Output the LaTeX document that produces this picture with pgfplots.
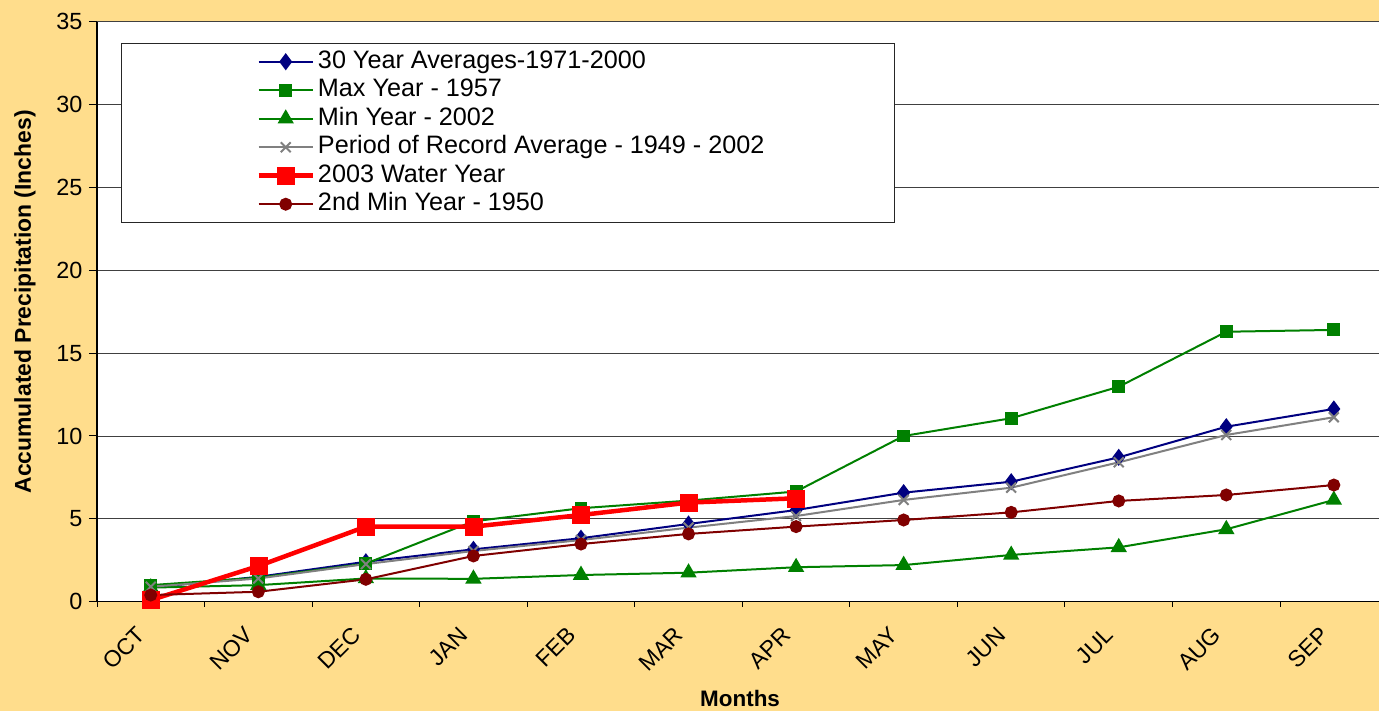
\documentclass[border=0pt]{standalone}
\usepackage{fontspec}
\setmainfont{Liberation Sans}
\usepackage{pgfplots}
\pgfplotsset{compat=1.18}
\definecolor{bgcol}{RGB}{255,221,140}
\definecolor{navy}{RGB}{0,0,128}
\definecolor{dgreen}{RGB}{0,128,0}
\definecolor{dred}{RGB}{128,0,0}
\definecolor{mgray}{RGB}{128,128,128}
\begin{document}
\begin{tikzpicture}[x=1bp,y=1bp]
\fill[bgcol] (0,0) rectangle (1379,711);
\begin{axis}[
  at={(97bp,109.3bp)}, anchor=south west, scale only axis,
  width=1282bp, height=580bp,
  xmin=-0.5, xmax=11.42, ymin=0, ymax=35,
  clip=false,
  axis x line*=bottom, axis y line*=left,
  axis line style={black, line width=1.6bp, -},
  every outer x axis line/.append style={-},
  every outer y axis line/.append style={-},
  axis background/.style={fill=white},
  xtick={0,...,11},
  xticklabels={OCT,NOV,DEC,JAN,FEB,MAR,APR,MAY,JUN,JUL,AUG,SEP},
  minor xtick={-0.5,0.5,...,10.5},
  ytick={0,5,...,35},
  ymajorgrids, grid style={black!75, line width=0.9bp},
  tick align=outside,
  major tick length=8bp, minor tick length=5bp,
  major x tick style={draw=none},
  tick style={black, line width=1bp},
  yticklabel style={font=\fontsize{23.5}{26}\selectfont, /pgf/number format/assume math mode=true, xshift=-3bp},
  xticklabel style={font=\fontsize{23}{26}\selectfont, xshift=-7bp, yshift=-19bp, rotate=45, anchor=east},
  ylabel={\bfseries Accumulated Precipitation (Inches)},
  every axis y label/.style={at={(rel axis cs:0,0.517)}, xshift=-72bp, rotate=90, anchor=center, font=\fontsize{23}{26}\selectfont},
  xlabel={\bfseries Months},
  every axis x label/.style={at={(rel axis cs:0.5016,0)}, anchor=center, yshift=-97bp, font=\fontsize{22.5}{26}\selectfont},
  legend style={at={(0.0187,0.9633)}, anchor=north west, draw=black!85, line width=1bp, fill=white,
    inner xsep=127bp, inner ysep=4bp, font=\fontsize{25.3}{28}\selectfont,
    cells={anchor=west},
    nodes={text height=18.5bp, text depth=5bp, inner ysep=2.5bp, inner xsep=3bp}},
  legend image code/.code={\path (-8bp,0bp); \draw[mark repeat=2, mark phase=2] plot coordinates {(0bp,0bp) (27bp,0bp) (54bp,0bp)};},
]
\addplot[navy, line width=2bp, mark=diamond*, mark size=7, mark options={solid}]
  coordinates {(0,0.85) (1,1.5) (2,2.41) (3,3.16) (4,3.83) (5,4.69) (6,5.53) (7,6.58) (8,7.24) (9,8.71) (10,10.56) (11,11.63)};
\addlegendentry{30 Year Averages-1971-2000}
\addplot[dgreen, line width=2bp, mark=square*, mark size=5.5, mark options={solid}]
  coordinates {(0,1.0) (1,1.45) (2,2.3) (3,4.85) (4,5.64) (5,6.1) (6,6.65) (7,10.0) (8,11.07) (9,12.97) (10,16.29) (11,16.4)};
\addlegendentry{Max Year - 1957}
\addplot[dgreen, line width=2bp, mark=triangle*, mark size=7.5, mark options={solid}]
  coordinates {(0,0.85) (1,1.0) (2,1.4) (3,1.38) (4,1.61) (5,1.75) (6,2.08) (7,2.21) (8,2.82) (9,3.28) (10,4.37) (11,6.14)};
\addlegendentry{Min Year - 2002}
\addplot[mgray, line width=2bp, mark=x, mark size=7, mark options={solid, line width=2bp}]
  coordinates {(0,0.9) (1,1.4) (2,2.27) (3,3.06) (4,3.72) (5,4.47) (6,5.17) (7,6.14) (8,6.88) (9,8.41) (10,10.06) (11,11.13)};
\addlegendentry{Period of Record Average - 1949 - 2002}
\addplot[red, line width=4.5bp, mark=square*, mark size=8.5, mark options={solid, line width=0.5bp}]
  coordinates {(0,0.1) (1,2.15) (2,4.53) (3,4.53) (4,5.23) (5,5.98) (6,6.24)};
\addlegendentry{2003 Water Year}
\addplot[dred, line width=2bp, mark=*, mark size=5.5, mark options={solid}]
  coordinates {(0,0.4) (1,0.6) (2,1.35) (3,2.76) (4,3.48) (5,4.09) (6,4.53) (7,4.93) (8,5.39) (9,6.08) (10,6.44) (11,7.04)};
\addlegendentry{2nd Min Year - 1950}
\end{axis}
\pgfresetboundingbox
\useasboundingbox (0,0) rectangle (1379,711);
\end{tikzpicture}
\end{document}
